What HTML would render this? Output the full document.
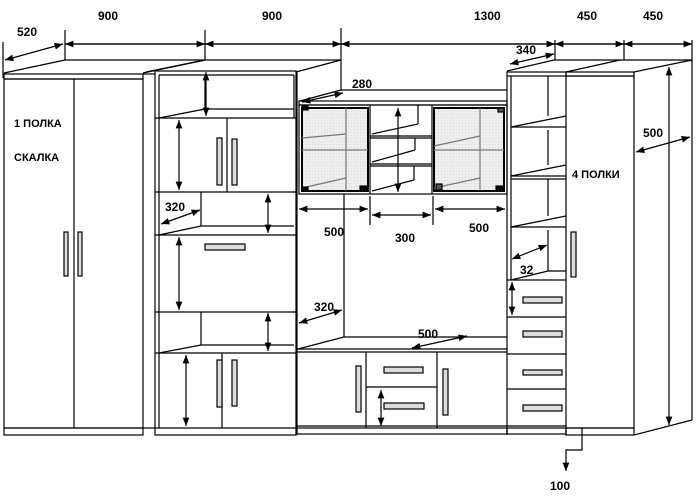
<!DOCTYPE html>
<html><head><meta charset="utf-8"><style>
html,body{margin:0;padding:0;background:#fff;width:696px;height:498px;overflow:hidden}
text{font-family:"Liberation Sans",sans-serif;font-weight:bold;font-size:12px;fill:#000}
</style></head><body>
<svg width="696" height="498" viewBox="0 0 696 498" xmlns="http://www.w3.org/2000/svg">
<defs>
<marker id="a" viewBox="0 0 10 10" refX="10" refY="5" markerWidth="7" markerHeight="7" orient="auto-start-reverse"><path d="M0,1 L10,5 L0,9 z" fill="#000"/></marker>
<pattern id="g" width="3" height="3" patternUnits="userSpaceOnUse"><rect width="3" height="3" fill="#eeeeee"/><rect width="1" height="1" fill="#dadada"/></pattern>
</defs>
<g stroke="#000" stroke-width="1.2" fill="none">
<line x1="65" y1="44" x2="692" y2="44"/>
<line x1="65" y1="44" x2="205" y2="44" marker-start="url(#a)" marker-end="url(#a)"/>
<line x1="205" y1="44" x2="341" y2="44" marker-start="url(#a)" marker-end="url(#a)"/>
<line x1="341" y1="44" x2="555" y2="44" marker-start="url(#a)" marker-end="url(#a)"/>
<line x1="555" y1="44" x2="624" y2="44" marker-start="url(#a)" marker-end="url(#a)"/>
<line x1="624" y1="44" x2="692" y2="44" marker-start="url(#a)" marker-end="url(#a)"/>
<line x1="65" y1="30" x2="65" y2="60"/><line x1="205" y1="30" x2="205" y2="60"/>
<line x1="341" y1="28" x2="341" y2="90"/><line x1="555" y1="40" x2="555" y2="60"/>
<line x1="624" y1="40" x2="624" y2="60"/><line x1="692" y1="40" x2="692" y2="62"/>
<line x1="3" y1="42" x2="3" y2="78"/>
<line x1="5" y1="60" x2="63" y2="44" marker-start="url(#a)" marker-end="url(#a)"/>

<line x1="65" y1="60" x2="205" y2="60"/>
<line x1="4" y1="73" x2="65" y2="60"/>
<line x1="143" y1="73" x2="205" y2="60"/>
<rect x="4" y="74" width="139" height="5"/>
<rect x="4" y="79" width="139" height="349"/>
<line x1="74" y1="79" x2="74" y2="428"/>
<rect x="4" y="428" width="139" height="7"/>
<line x1="143" y1="74" x2="155" y2="74"/><line x1="143" y1="428" x2="155" y2="428"/>
<rect x="64" y="232" width="4" height="44" fill="#ddd"/><rect x="78" y="232" width="4" height="44" fill="#ddd"/>

<line x1="146" y1="72" x2="205" y2="60"/>
<line x1="296" y1="72" x2="341" y2="60"/>
<line x1="205" y1="60" x2="341" y2="60"/>
<rect x="155" y="71" width="141" height="364"/>
<line x1="159" y1="75" x2="294" y2="75"/>
<line x1="159" y1="75" x2="159" y2="428"/>
<line x1="294" y1="75" x2="294" y2="118"/>
<line x1="159" y1="118" x2="205" y2="109"/>
<line x1="205" y1="75" x2="205" y2="109"/><line x1="205" y1="109" x2="294" y2="109"/>
<line x1="155" y1="118" x2="296" y2="118"/>
<line x1="227" y1="118" x2="227" y2="192"/>
<rect x="217" y="138" width="5" height="47" fill="#ddd"/><rect x="232" y="139" width="5" height="46" fill="#ddd"/>
<line x1="155" y1="192" x2="296" y2="192"/>
<line x1="159" y1="235" x2="201" y2="226"/>
<line x1="201" y1="192" x2="201" y2="226"/><line x1="201" y1="226" x2="294" y2="226"/>
<line x1="155" y1="235" x2="296" y2="235"/>
<rect x="205" y="244" width="40" height="6" fill="#ddd"/>
<line x1="155" y1="312" x2="296" y2="312"/>
<line x1="159" y1="353" x2="201" y2="345"/>
<line x1="201" y1="312" x2="201" y2="345"/><line x1="201" y1="345" x2="294" y2="345"/>
<line x1="155" y1="353" x2="296" y2="353"/>
<line x1="222" y1="353" x2="222" y2="428"/>
<rect x="217" y="360" width="5" height="47" fill="#ddd"/><rect x="232" y="360" width="5" height="46" fill="#ddd"/>
<line x1="155" y1="428" x2="296" y2="428"/>
<line x1="206" y1="72" x2="206" y2="116" marker-start="url(#a)" marker-end="url(#a)"/>
<line x1="179" y1="120" x2="179" y2="190" marker-start="url(#a)" marker-end="url(#a)"/>
<line x1="268" y1="194" x2="268" y2="233" marker-start="url(#a)" marker-end="url(#a)"/>
<line x1="161" y1="224" x2="200" y2="210" marker-start="url(#a)" marker-end="url(#a)"/>
<line x1="179" y1="237" x2="179" y2="310" marker-start="url(#a)" marker-end="url(#a)"/>
<line x1="268" y1="313" x2="268" y2="351" marker-start="url(#a)" marker-end="url(#a)"/>
<line x1="186" y1="355" x2="186" y2="426" marker-start="url(#a)" marker-end="url(#a)"/>

<line x1="297" y1="71" x2="297" y2="435"/>
<line x1="300" y1="101" x2="341" y2="90"/>
<line x1="341" y1="90" x2="507" y2="90"/>
<rect x="299" y="101" width="208" height="4"/>
<rect x="299" y="105" width="208" height="89"/>
<rect x="302" y="108" width="66" height="83" fill="url(#g)" stroke-width="2"/>
<rect x="434" y="108" width="70" height="83" fill="url(#g)" stroke-width="2"/>
<line x1="346" y1="108" x2="346" y2="191" stroke="#777"/>
<line x1="302" y1="150" x2="368" y2="150" stroke="#777"/>
<line x1="302" y1="138" x2="346" y2="134" stroke="#777"/>
<line x1="480" y1="108" x2="480" y2="191" stroke="#777"/>
<line x1="434" y1="150" x2="504" y2="150" stroke="#777"/>
<line x1="434" y1="146" x2="480" y2="136" stroke="#777"/>
<line x1="434" y1="188" x2="480" y2="178" stroke="#777"/>
<line x1="302" y1="188" x2="346" y2="178" stroke="#777"/>
<rect x="302" y="106" width="6" height="4" fill="#000"/><rect x="302" y="187" width="6" height="4" fill="#000"/>
<rect x="360" y="186" width="8" height="5" fill="#000"/><rect x="498" y="108" width="6" height="4" fill="#555"/>
<rect x="436" y="184" width="6" height="6" fill="#555"/><rect x="496" y="186" width="8" height="5" fill="#000"/>
<line x1="370" y1="105" x2="370" y2="194"/><line x1="432" y1="105" x2="432" y2="194"/>
<line x1="370" y1="136" x2="432" y2="136"/><line x1="370" y1="138" x2="432" y2="138"/>
<line x1="370" y1="164" x2="432" y2="164"/><line x1="370" y1="166" x2="432" y2="166"/>
<line x1="372" y1="134" x2="418" y2="124"/><line x1="418" y1="105" x2="418" y2="124"/>
<line x1="372" y1="162" x2="415" y2="150"/><line x1="415" y1="138" x2="415" y2="150"/>
<line x1="372" y1="191" x2="414" y2="180"/><line x1="414" y1="166" x2="414" y2="180"/>
<line x1="398" y1="108" x2="398" y2="192" marker-start="url(#a)" marker-end="url(#a)"/>
<line x1="302" y1="102" x2="343" y2="93" marker-start="url(#a)" marker-end="url(#a)"/>
<line x1="344" y1="194" x2="344" y2="337"/>
<line x1="370" y1="196" x2="370" y2="225"/><line x1="433" y1="196" x2="433" y2="225"/>
<line x1="299" y1="209" x2="368" y2="209" marker-start="url(#a)" marker-end="url(#a)"/>
<line x1="372" y1="215" x2="431" y2="215" marker-start="url(#a)" marker-end="url(#a)"/>
<line x1="435" y1="209" x2="505" y2="209" marker-start="url(#a)" marker-end="url(#a)"/>
<line x1="344" y1="337" x2="507" y2="337"/>
<line x1="298" y1="349" x2="344" y2="337"/>
<line x1="297" y1="349" x2="507" y2="349"/>
<line x1="297" y1="352" x2="507" y2="352"/>
<line x1="299" y1="323" x2="342" y2="310" marker-start="url(#a)" marker-end="url(#a)"/>
<line x1="412" y1="348" x2="467" y2="336" marker-start="url(#a)" marker-end="url(#a)"/>
<line x1="366" y1="352" x2="366" y2="428"/><line x1="437" y1="352" x2="437" y2="428"/>
<line x1="366" y1="387" x2="437" y2="387"/>
<rect x="384" y="367" width="39" height="6" fill="#ddd"/>
<rect x="384" y="403" width="40" height="6" fill="#ddd"/>
<rect x="356" y="366" width="5" height="46" fill="#ddd"/>
<rect x="443" y="369" width="5" height="46" fill="#ddd"/>
<line x1="381" y1="390" x2="381" y2="426" marker-start="url(#a)" marker-end="url(#a)"/>
<line x1="297" y1="426" x2="507" y2="426"/>
<rect x="297" y="428" width="210" height="6"/>

<line x1="507" y1="71" x2="554" y2="60"/>
<line x1="554" y1="60" x2="692" y2="60"/>
<line x1="510" y1="64" x2="554" y2="54" marker-start="url(#a)" marker-end="url(#a)"/>
<rect x="507" y="72" width="59" height="4"/>
<line x1="507" y1="76" x2="507" y2="435"/>
<line x1="511" y1="76" x2="511" y2="280"/>
<line x1="548" y1="76" x2="548" y2="116"/>
<line x1="511" y1="127" x2="566" y2="116"/><line x1="511" y1="127" x2="566" y2="127"/>
<line x1="548" y1="130" x2="548" y2="165"/>
<line x1="511" y1="176" x2="566" y2="165"/><line x1="511" y1="176" x2="566" y2="176"/><line x1="511" y1="179" x2="566" y2="179"/>
<line x1="548" y1="179" x2="548" y2="216"/>
<line x1="511" y1="227" x2="566" y2="216"/><line x1="511" y1="227" x2="566" y2="227"/>
<line x1="548" y1="230" x2="548" y2="271"/>
<line x1="511" y1="280" x2="548" y2="271"/><line x1="548" y1="271" x2="566" y2="271"/>
<line x1="507" y1="280" x2="566" y2="280"/>
<line x1="512" y1="259" x2="547" y2="245" marker-start="url(#a)" marker-end="url(#a)"/>
<line x1="512" y1="282" x2="512" y2="315" marker-start="url(#a)" marker-end="url(#a)"/>
<line x1="507" y1="317" x2="566" y2="317"/><line x1="507" y1="354" x2="566" y2="354"/><line x1="507" y1="389" x2="566" y2="389"/>
<rect x="523" y="297" width="39" height="6" fill="#ddd"/>
<rect x="523" y="331" width="39" height="6" fill="#ddd"/>
<rect x="523" y="370" width="39" height="5" fill="#ddd"/>
<rect x="523" y="405" width="39" height="6" fill="#ddd"/>
<line x1="507" y1="426" x2="566" y2="426"/>
<rect x="507" y="428" width="59" height="6"/>

<line x1="566" y1="72" x2="620" y2="60"/>
<line x1="634" y1="72" x2="692" y2="60"/>
<rect x="566" y="72" width="68" height="4"/>
<rect x="566" y="76" width="68" height="352"/>
<rect x="566" y="428" width="68" height="7"/>
<rect x="571" y="232" width="5" height="45" fill="#ddd"/>
<line x1="692" y1="60" x2="692" y2="420"/>
<line x1="634" y1="435" x2="692" y2="420"/>
<line x1="669" y1="67" x2="669" y2="425" marker-start="url(#a)" marker-end="url(#a)"/>
<line x1="636" y1="152" x2="690" y2="137" marker-start="url(#a)" marker-end="url(#a)"/>
<polyline points="582,428 582,450 566,450 566,470"/>
<line x1="566" y1="462" x2="566" y2="471" marker-end="url(#a)"/>
</g>
<text x="17" y="36">520</text>
<text x="98" y="20">900</text>
<text x="262" y="20">900</text>
<text x="474" y="20">1300</text>
<text x="577" y="20">450</text>
<text x="643" y="20">450</text>
<text x="516" y="54">340</text>
<text x="352" y="88">280</text>
<text x="643" y="137">500</text>
<text x="14" y="127" style="font-size:11px">1 ПОЛКА</text>
<text x="14" y="161" style="font-size:11px">СКАЛКА</text>
<text x="572" y="178" style="font-size:11px">4 ПОЛКИ</text>
<text x="165" y="211">320</text>
<text x="324" y="236">500</text>
<text x="395" y="242">300</text>
<text x="469" y="232">500</text>
<text x="520" y="274">32</text>
<text x="314" y="311">320</text>
<text x="418" y="338">500</text>
<text x="550" y="490">100</text>
</svg>
</body></html>
